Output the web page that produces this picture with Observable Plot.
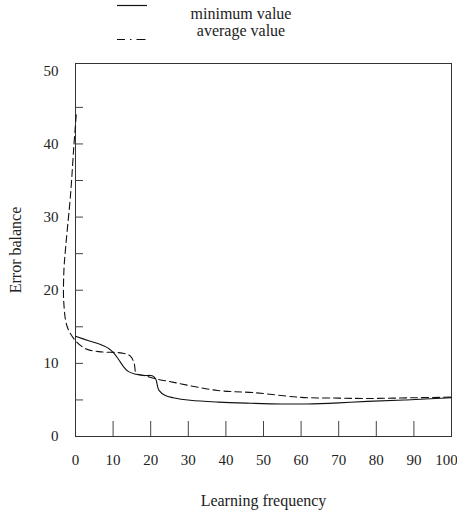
<!DOCTYPE html>
<html><head><meta charset="utf-8">
<script src="https://cdn.jsdelivr.net/npm/d3@7"></script>
<script src="https://cdn.jsdelivr.net/npm/@observablehq/plot@0.6"></script>
<style>
body{margin:0;background:#fff;}
#wrap{width:457px;height:512px;font-family:"Liberation Serif","Times New Roman",Times,"DejaVu Serif",serif;}
#legend{display:block;}
#legend text, #chart svg, #chart svg text{font-family:"Liberation Serif","Times New Roman",Times,"DejaVu Serif",serif !important;}
#chart [aria-label="x-axis label"], #chart [aria-label="y-axis label"]{font-size:16px;}
</style></head><body><div id="wrap"><svg id="legend" width="457" height="48"></svg><div id="chart"></div></div>
<script>
// Series: minimum value (solid)
const minX = [0, 3.5, 6.5, 8.9, 10.2, 11.5, 12.7, 14, 16, 18.5, 20.4, 21.3, 22.2, 23.9, 26, 30.5, 38, 46.5, 55, 61.6, 70, 77.6, 88, 100];
const minY = [13.7, 13.1, 12.6, 12.0, 11.4, 10.5, 9.6, 8.9, 8.5, 8.35, 8.3, 7.9, 6.3, 5.6, 5.3, 4.95, 4.7, 4.55, 4.45, 4.45, 4.6, 4.8, 5.0, 5.3];
// Series: average value (dashed)
const avgX = [0.2, -0.45, -1.3, -2.7, -3.1, -3.1, -2.2, 0, 2.7, 6.2, 12.4, 14.6, 15.6, 16.2, 18.5, 21.3, 26.1, 37.7, 47.4, 60, 70, 77.6, 90, 100];
const avgY = [44, 39.6, 33.2, 25.4, 22.5, 18.2, 15, 13.1, 12.0, 11.6, 11.4, 11.0, 10.0, 8.6, 8.3, 7.9, 7.4, 6.3, 6.0, 5.35, 5.25, 5.2, 5.3, 5.38];
const seriesNames = ["minimum value", "average value"];
// Axes
const xTickLabels = [0, 10, 20, 30, 40, 50, 60, 70, 80, 90];
const xLastLabel = [100];
const xTickMarks = [10, 20, 30, 40, 50, 60, 70, 80, 90];
const yTickLabels = [0, 10, 20, 30, 40, 50];
const yTickMarks = [5, 10, 15, 20, 25, 30, 35, 40, 45];
const xTitle = "Learning frequency";
const yTitle = "Error balance";

const minData = minX.map((x, i) => ({x, y: minY[i]}));
const avgData = avgX.map((x, i) => ({x, y: avgY[i]}));

// Legend
const lg = d3.select("#legend");
lg.append("line").attr("x1", 117).attr("x2", 147).attr("y1", 5.5).attr("y2", 5.5)
  .attr("stroke", "#111").attr("stroke-width", 1.2);
lg.append("line").attr("x1", 117).attr("x2", 146).attr("y1", 39.5).attr("y2", 39.5)
  .attr("stroke", "#111").attr("stroke-width", 1.2).attr("stroke-dasharray", "8,5,1.5,5,9");
lg.selectAll("text").data(seriesNames).join("text")
  .attr("x", 241).attr("y", (d, i) => i === 0 ? 19 : 36)
  .attr("text-anchor", "middle").attr("font-size", 16)
  .attr("fill", "#222")
  .text(d => d);

const chart = Plot.plot({
  width: 457, height: 464,
  marginTop: 15, marginBottom: 76, marginLeft: 75, marginRight: 6,
  style: {fontSize: "15px", color: "#222", background: "white"},
  x: {domain: [0, 100]},
  y: {domain: [0, 51]},
  marks: [
    Plot.frame({stroke: "#333"}),
    Plot.axisX(xTickMarks, {tickSize: -15, tickFormat: () => "", label: null, stroke: "#444"}),
    Plot.axisX(xTickLabels, {tickSize: 0, tickPadding: 18, label: xTitle, labelAnchor: "center", labelOffset: 69, labelArrow: "none"}),
    Plot.axisX(xLastLabel, {tickSize: 0, tickPadding: 18, dx: -5, label: null}),
    Plot.axisY(yTickMarks, {tickSize: -8, tickFormat: () => "", label: null, stroke: "#444"}),
    Plot.axisY(yTickLabels, {tickSize: 0, tickPadding: 17, label: yTitle, labelAnchor: "center", labelOffset: 66, labelArrow: "none"}),
    Plot.line(minData, {x: "x", y: "y", curve: "catmull-rom", stroke: "#111", strokeWidth: 1.1}),
    Plot.line(avgData, {x: "x", y: "y", curve: "catmull-rom", stroke: "#111", strokeWidth: 1.1, strokeDasharray: "7,4"})
  ]
});
document.getElementById("chart").appendChild(chart);
</script></body></html>
